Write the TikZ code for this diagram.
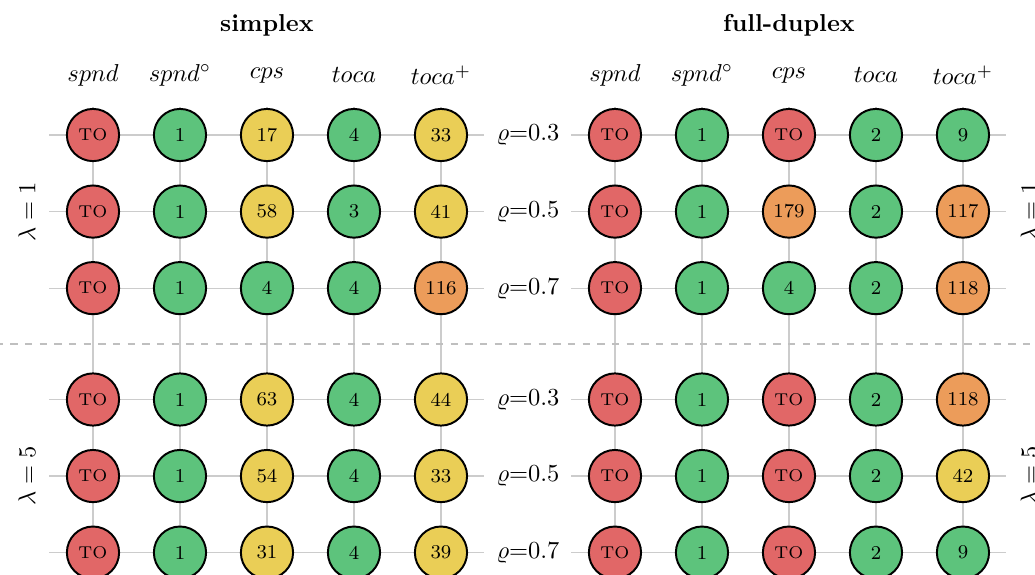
\documentclass[tikz,border=0pt]{standalone}
\usepackage{amsmath}
\definecolor{cr}{RGB}{225,103,103}
\definecolor{cg}{RGB}{93,195,124}
\definecolor{cy}{RGB}{234,206,86}
\definecolor{co}{RGB}{236,156,90}
\tikzset{
  cell/.style={circle,draw=black,line width=0.8pt,minimum size=0.75cm,inner sep=0pt,font=\footnotesize},
  gridline/.style={draw=gray!40,line width=0.5pt},
  sepline/.style={draw=gray!50,dashed,line width=0.6pt},
  hdr/.style={font=\normalsize},
}
\newcommand\TOtext{{\scriptsize TO}}
\newcommand\cellrow[4]{%
  \foreach \cc/\tt [count=\i from 0] in {#4} {
    \node[cell,fill=c\cc] (#1-\i) at ({#2+1.25*\i},#3) {\tt};
  }%
}
\begin{document}
\begin{tikzpicture}
\useasboundingbox (-1.336,1.94) rectangle (13.535,-6.32);
\clip (-1.336,1.94) rectangle (13.535,-6.32);
% grid
\foreach \x in {0,1.25,2.5,3.75,5,7.5,8.75,10,11.25,12.5}
  \draw[gridline] (\x,0.4) -- (\x,-6.4);
\foreach \y in {0,-1.1,-2.2,-3.8,-4.9,-6.0} {
  \draw[gridline] (-0.625,\y) -- (5.625,\y);
  \draw[gridline] (6.875,\y) -- (13.125,\y);
}
\draw[sepline] (-1.4,-3.0) -- (13.6,-3.0);
% titles
\node[font=\bfseries] (tS) at (2.5,1.58) {simplex};
\node[font=\bfseries] (tF) at (10,1.58) {full-duplex};
\foreach \lab [count=\i from 0] in {$spnd$,$spnd^\circ$,$cps$,$toca$,$toca^+$} {
  \node[hdr] (hs\i) at ({1.25*\i},0.86) {\lab};
  \node[hdr] (hf\i) at ({7.5+1.25*\i},0.86) {\lab};
}
% rho labels
\node (r1) at (6.25,0) {$\varrho$=0.3};
\node (r2) at (6.25,-1.1) {$\varrho$=0.5};
\node (r3) at (6.25,-2.2) {$\varrho$=0.7};
\node (r4) at (6.25,-3.8) {$\varrho$=0.3};
\node (r5) at (6.25,-4.9) {$\varrho$=0.5};
\node (r6) at (6.25,-6.0) {$\varrho$=0.7};
% lambda labels
\node[rotate=90] (l1L) at (-0.95,-1.1) {$\lambda = 1$};
\node[rotate=90] (l1R) at (13.45,-1.1) {$\lambda = 1$};
\node[rotate=90] (l5L) at (-0.95,-4.9) {$\lambda = 5$};
\node[rotate=90] (l5R) at (13.45,-4.9) {$\lambda = 5$};
% simplex lambda=1
\cellrow{sa}{0}{0}{r/\TOtext,g/1,y/17,g/4,y/33}
\cellrow{sb}{0}{-1.1}{r/\TOtext,g/1,y/58,g/3,y/41}
\cellrow{sc}{0}{-2.2}{r/\TOtext,g/1,g/4,g/4,o/116}
% full-duplex lambda=1
\cellrow{fa}{7.5}{0}{r/\TOtext,g/1,r/\TOtext,g/2,g/9}
\cellrow{fb}{7.5}{-1.1}{r/\TOtext,g/1,o/179,g/2,o/117}
\cellrow{fc}{7.5}{-2.2}{r/\TOtext,g/1,g/4,g/2,o/118}
% simplex lambda=5
\cellrow{sd}{0}{-3.8}{r/\TOtext,g/1,y/63,g/4,y/44}
\cellrow{se}{0}{-4.9}{r/\TOtext,g/1,y/54,g/4,y/33}
\cellrow{sf}{0}{-6.0}{r/\TOtext,g/1,y/31,g/4,y/39}
% full-duplex lambda=5
\cellrow{fd}{7.5}{-3.8}{r/\TOtext,g/1,r/\TOtext,g/2,o/118}
\cellrow{fe}{7.5}{-4.9}{r/\TOtext,g/1,r/\TOtext,g/2,y/42}
\cellrow{ff}{7.5}{-6.0}{r/\TOtext,g/1,r/\TOtext,g/2,g/9}
\end{tikzpicture}
\end{document}
